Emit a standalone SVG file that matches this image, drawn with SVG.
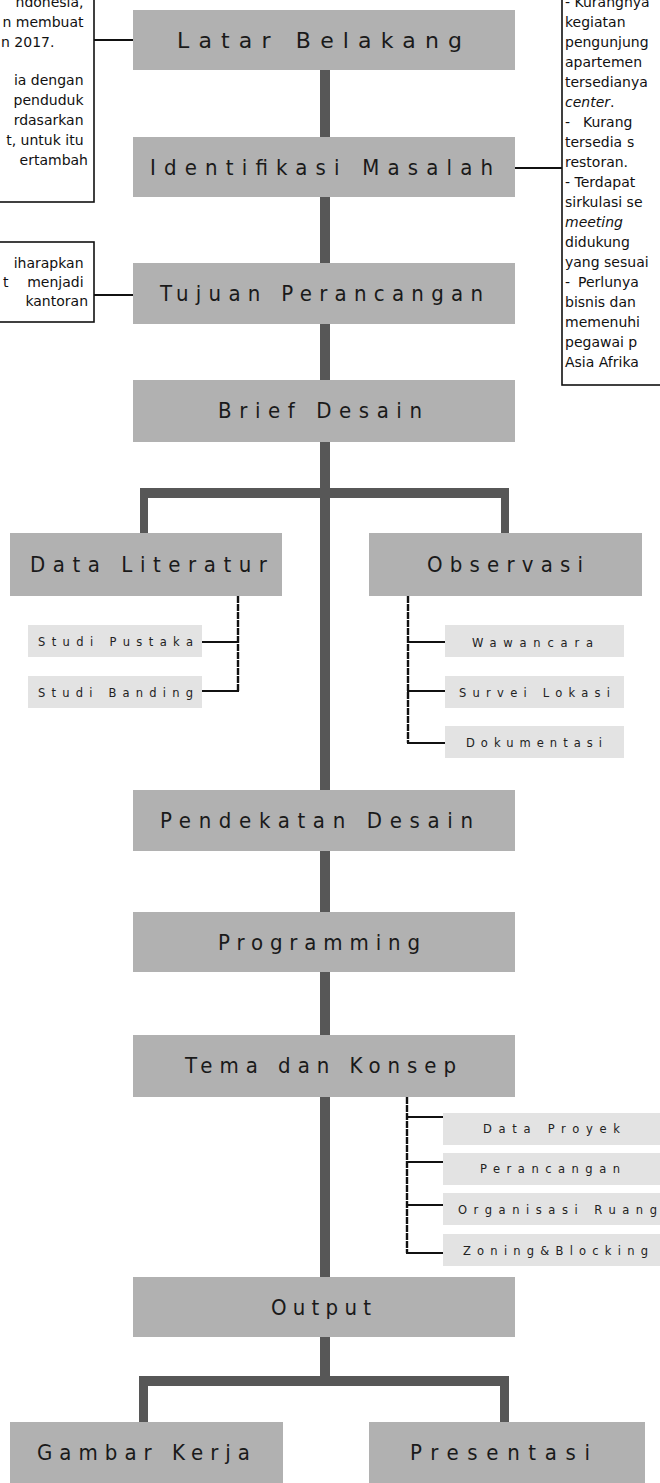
<svg xmlns="http://www.w3.org/2000/svg" width="660" height="1483" viewBox="0 0 660 1483">
<style>
.bar{fill:#575757}
.box{fill:#b1b1b1}
.sub{fill:#e3e3e3}
.frame{fill:#fff;stroke:#111;stroke-width:1.6}
.ln{stroke:#111;stroke-width:2;fill:none}
.dash{stroke:#111;stroke-width:2.4;fill:none;stroke-dasharray:7 1}
.big{font-family:"DejaVu Sans Condensed","Liberation Sans Narrow","Liberation Sans",sans-serif;font-size:22px;fill:#1a1a1a}
.lat{font-family:"DejaVu Sans","Liberation Sans",sans-serif;font-size:22px;fill:#1a1a1a}
.sm{font-family:"DejaVu Sans","Liberation Sans",sans-serif;font-size:11.5px;fill:#222}
.body{font-family:"DejaVu Sans","Liberation Sans",sans-serif;font-size:14px;fill:#111}
.it{font-style:italic}
</style>

<g id="connectors">
  <rect class="bar" x="320" y="70" width="10" height="1220"/>
  <rect class="bar" x="320" y="1337" width="10" height="45"/>
  <rect class="bar" x="140" y="488" width="369" height="10"/>
  <rect class="bar" x="140" y="488" width="8" height="46"/>
  <rect class="bar" x="501" y="488" width="8" height="46"/>
  <rect class="bar" x="139" y="1376" width="370" height="10"/>
  <rect class="bar" x="139" y="1376" width="9" height="47"/>
  <rect class="bar" x="500" y="1376" width="9" height="47"/>
  <line class="ln" x1="94" y1="40" x2="133" y2="40"/>
  <line class="ln" x1="94" y1="295" x2="133" y2="295"/>
  <line class="ln" x1="515" y1="168" x2="562" y2="168"/>
  <line class="dash" x1="238" y1="596" x2="238" y2="692"/>
  <line class="ln" x1="202" y1="642" x2="239" y2="642"/>
  <line class="ln" x1="202" y1="691" x2="239" y2="691"/>
  <line class="dash" x1="408" y1="596" x2="408" y2="743"/>
  <line class="ln" x1="407" y1="642" x2="445" y2="642"/>
  <line class="ln" x1="407" y1="691" x2="445" y2="691"/>
  <line class="ln" x1="407" y1="743" x2="445" y2="743"/>
  <line class="dash" x1="407" y1="1097" x2="407" y2="1253"/>
  <line class="ln" x1="406" y1="1117" x2="443" y2="1117"/>
  <line class="ln" x1="406" y1="1162" x2="443" y2="1162"/>
  <line class="ln" x1="406" y1="1205" x2="443" y2="1205"/>
  <line class="ln" x1="406" y1="1253" x2="443" y2="1253"/>
</g>

<g id="note-latar">
  <rect class="frame" x="-5" y="-5" width="99" height="207"/>
  <text class="body" text-anchor="end">
    <tspan x="88" y="7">ndonesia,</tspan>
    <tspan x="88" y="27">n membuat</tspan>
    <tspan x="88" y="85">ia dengan</tspan>
    <tspan x="88" y="105">penduduk</tspan>
    <tspan x="88" y="125">rdasarkan</tspan>
    <tspan x="88" y="145">t, untuk itu</tspan>
    <tspan x="88" y="165">ertambah</tspan>
  </text>
  <text class="body" x="1" y="47">n 2017.</text>
</g>

<g id="note-tujuan">
  <rect class="frame" x="-5" y="242" width="99" height="80"/>
  <text class="body" text-anchor="end">
    <tspan x="88" y="268">iharapkan</tspan>
    <tspan x="88" y="287">menjadi</tspan>
    <tspan x="88" y="306">kantoran</tspan>
  </text>
  <text class="body" x="3" y="287">t</text>
</g>

<g id="note-masalah">
  <rect class="frame" x="562" y="-5" width="110" height="390"/>
  <text class="body">
    <tspan x="565" y="7">- Kurangnya</tspan>
    <tspan x="565" y="27">kegiatan</tspan>
    <tspan x="565" y="47">pengunjung</tspan>
    <tspan x="565" y="67">apartemen</tspan>
    <tspan x="565" y="87">tersedianya</tspan>
    <tspan x="565" y="107" class="it">center</tspan><tspan>.</tspan>
    <tspan x="565" y="127">-</tspan><tspan x="583" y="127">Kurang</tspan>
    <tspan x="565" y="147">tersedia</tspan><tspan x="627" y="147">s</tspan>
    <tspan x="565" y="167">restoran.</tspan>
    <tspan x="565" y="187">- Terdapat</tspan>
    <tspan x="565" y="207">sirkulasi se</tspan>
    <tspan x="565" y="227" class="it">meeting</tspan>
    <tspan x="565" y="247">didukung</tspan>
    <tspan x="565" y="267">yang sesuai</tspan>
    <tspan x="565" y="287">-</tspan><tspan x="578" y="287">Perlunya</tspan>
    <tspan x="565" y="307">bisnis dan</tspan>
    <tspan x="565" y="327">memenuhi</tspan>
    <tspan x="565" y="347">pegawai p</tspan>
    <tspan x="565" y="367">Asia Afrika</tspan>
  </text>
</g>

<g id="latar-belakang">
  <rect class="box" x="133" y="10" width="382" height="60"/>
  <text class="lat" x="177" y="48" textLength="285" lengthAdjust="spacing">Latar Belakang</text>
</g>
<g id="identifikasi-masalah">
  <rect class="box" x="133" y="137" width="382" height="60"/>
  <text class="big" x="150" y="175" textLength="343" lengthAdjust="spacing">Identifikasi Masalah</text>
</g>
<g id="tujuan-perancangan">
  <rect class="box" x="133" y="263" width="382" height="61"/>
  <text class="big" x="160" y="301" textLength="323" lengthAdjust="spacing">Tujuan Perancangan</text>
</g>
<g id="brief-desain">
  <rect class="box" x="133" y="380" width="382" height="62"/>
  <text class="big" x="218" y="418" textLength="204" lengthAdjust="spacing">Brief Desain</text>
</g>
<g id="data-literatur">
  <rect class="box" x="10" y="533" width="272" height="63"/>
  <text class="big" x="30" y="572" textLength="237" lengthAdjust="spacing">Data Literatur</text>
</g>
<g id="observasi">
  <rect class="box" x="369" y="533" width="273" height="63"/>
  <text class="big" x="427" y="572" textLength="156" lengthAdjust="spacing">Observasi</text>
</g>
<g id="studi-pustaka">
  <rect class="sub" x="28" y="625" width="174" height="32"/>
  <text class="sm" x="38" y="646" textLength="155" lengthAdjust="spacing">Studi Pustaka</text>
</g>
<g id="studi-banding">
  <rect class="sub" x="28" y="676" width="174" height="32"/>
  <text class="sm" x="38" y="697" textLength="155" lengthAdjust="spacing">Studi Banding</text>
</g>
<g id="wawancara">
  <rect class="sub" x="445" y="625" width="179" height="32"/>
  <text class="sm" x="472" y="647" textLength="121" lengthAdjust="spacing">Wawancara</text>
</g>
<g id="survei-lokasi">
  <rect class="sub" x="445" y="676" width="179" height="32"/>
  <text class="sm" x="459" y="697" textLength="151" lengthAdjust="spacing">Survei Lokasi</text>
</g>
<g id="dokumentasi">
  <rect class="sub" x="445" y="726" width="179" height="32"/>
  <text class="sm" x="466" y="747" textLength="136" lengthAdjust="spacing">Dokumentasi</text>
</g>
<g id="pendekatan-desain">
  <rect class="box" x="133" y="790" width="382" height="61"/>
  <text class="big" x="160" y="828" textLength="313" lengthAdjust="spacing">Pendekatan Desain</text>
</g>
<g id="programming">
  <rect class="box" x="133" y="912" width="382" height="60"/>
  <text class="big" x="218" y="950" textLength="202" lengthAdjust="spacing">Programming</text>
</g>
<g id="tema-dan-konsep">
  <rect class="box" x="133" y="1035" width="382" height="62"/>
  <text class="big" x="185" y="1073" textLength="271" lengthAdjust="spacing">Tema dan Konsep</text>
</g>
<g id="data-proyek">
  <rect class="sub" x="443" y="1113" width="220" height="32"/>
  <text class="sm" x="483" y="1133" textLength="137" lengthAdjust="spacing">Data Proyek</text>
</g>
<g id="perancangan">
  <rect class="sub" x="443" y="1153" width="220" height="32"/>
  <text class="sm" x="480" y="1173" textLength="140" lengthAdjust="spacing">Perancangan</text>
</g>
<g id="organisasi-ruang">
  <rect class="sub" x="443" y="1193" width="220" height="32"/>
  <text class="sm" x="458" y="1214" textLength="199" lengthAdjust="spacing">Organisasi Ruang</text>
</g>
<g id="zoning-blocking">
  <rect class="sub" x="443" y="1234" width="220" height="32"/>
  <text class="sm" x="463" y="1255" textLength="185" lengthAdjust="spacing">Zoning&amp;Blocking</text>
</g>
<g id="output">
  <rect class="box" x="133" y="1277" width="382" height="60"/>
  <text class="big" x="271" y="1315" textLength="100" lengthAdjust="spacing">Output</text>
</g>
<g id="gambar-kerja">
  <rect class="box" x="10" y="1422" width="273" height="70"/>
  <text class="big" x="37" y="1460" textLength="213" lengthAdjust="spacing">Gambar Kerja</text>
</g>
<g id="presentasi">
  <rect class="box" x="369" y="1422" width="276" height="70"/>
  <text class="big" x="410" y="1460" textLength="180" lengthAdjust="spacing">Presentasi</text>
</g>
</svg>
